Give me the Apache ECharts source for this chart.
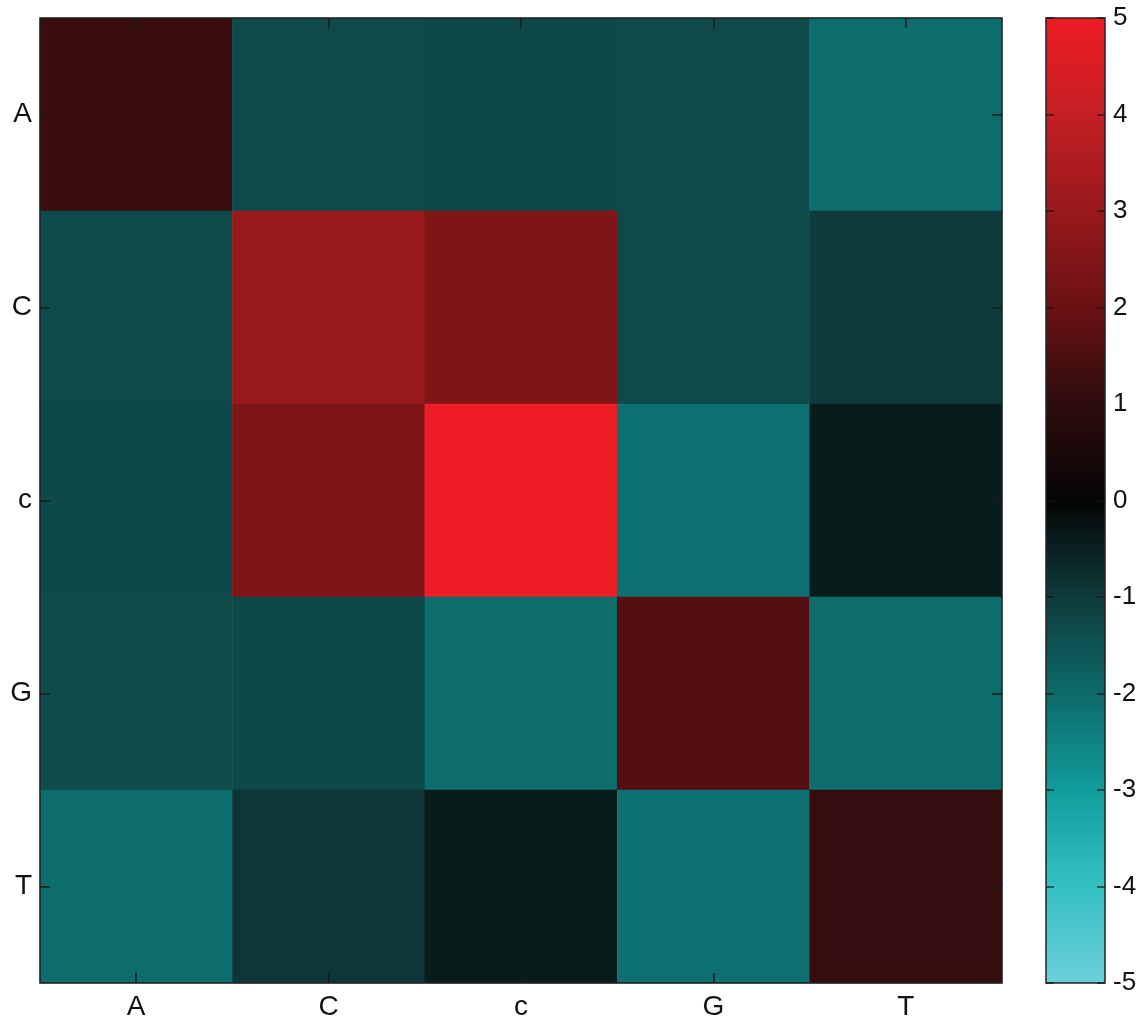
<!DOCTYPE html>
<html>
<head>
<meta charset="utf-8">
<script src="https://cdn.jsdelivr.net/npm/echarts@6/dist/echarts.min.js"></script>
<style>
  html, body { margin: 0; padding: 0; background: #fff; }
  #chart { width: 1146px; height: 1025px; }
</style>
</head>
<body>
<div id="chart"></div>
<script>
// Nucleotide labels (rows top to bottom, columns left to right)
const bases = ['A', 'C', 'c', 'G', 'T'];

// Score matrix, one array per row
const rowA = [1.2, -1.32, -1.28, -1.32, -2.05];
const rowC = [-1.32, 3.0, 2.45, -1.32, -1.0];
const rowc = [-1.28, 2.45, 5.0, -2.1, -0.43];
const rowG = [-1.34, -1.3, -2.05, 1.65, -2.05];
const rowT = [-2.05, -0.9, -0.43, -2.1, 1.12];
const rows = [rowA, rowC, rowc, rowG, rowT];

// Colour bar scale
const scaleMin = -5;
const scaleMax = 5;
const scaleTicks = [-5, -4, -3, -2, -1, 0, 1, 2, 3, 4, 5];

// Diverging cyan - black - red colormap, one stop per integer from -5 to 5
const rampColors = [
  '#6ccfd9', '#35c0c4', '#119c9c', '#0d6a6a', '#0f3b3b', '#050505',
  '#2e0c0d', '#6a1113', '#98191c', '#c41f24', '#ee1c24'
];

const cells = [];
rows.forEach((row, yi) => {
  row.forEach((v, xi) => cells.push([xi, yi, v]));
});

const FONT = "'Liberation Sans', Arial, Helvetica, sans-serif";

function ticks(len, color) {
  return { show: true, inside: true, alignWithLabel: true, length: len,
           lineStyle: { color: color, width: 1.5 } };
}

const PLOT = { left: 40, top: 18, width: 962, height: 965 };
const BAR = { left: 1046, top: 18, width: 59, height: 965 };
const barGrid = { left: BAR.left, top: BAR.top, width: BAR.width, height: BAR.height,
                  show: true, borderColor: '#222', borderWidth: 1.5,
                  backgroundColor: 'transparent', z: 10 };

const chart = echarts.init(document.getElementById('chart'), null, { renderer: 'canvas' });

chart.setOption({
  backgroundColor: '#ffffff',
  animation: false,
  grid: [
    { left: PLOT.left, top: PLOT.top, width: PLOT.width, height: PLOT.height,
      show: true, borderColor: '#222', borderWidth: 1.5, z: 10 },
    barGrid,
    Object.assign({}, barGrid, { show: false })
  ],
  xAxis: [
    { type: 'category', gridIndex: 0, data: bases, position: 'bottom', z: 10,
      axisLine: { show: false }, axisTick: ticks(10, '#1a1a1a'),
      axisLabel: { fontFamily: FONT, fontSize: 28, color: '#111', margin: 10 },
      splitLine: { show: false } },
    { type: 'category', gridIndex: 0, data: bases, position: 'top', z: 10,
      axisLine: { show: false }, axisTick: ticks(10, '#1a1a1a'),
      axisLabel: { show: false }, splitLine: { show: false } },
    { type: 'category', gridIndex: 1, data: [''], show: false },
    { type: 'category', gridIndex: 2, data: [''], show: false }
  ],
  yAxis: [
    { type: 'category', gridIndex: 0, data: bases, inverse: true, position: 'left', z: 10,
      axisLine: { show: false }, axisTick: ticks(10, '#1a1a1a'),
      axisLabel: { fontFamily: FONT, fontSize: 28, color: '#111', margin: 8 },
      splitLine: { show: false } },
    { type: 'category', gridIndex: 0, data: bases, inverse: true, position: 'right', z: 10,
      axisLine: { show: false }, axisTick: ticks(10, '#1a1a1a'),
      axisLabel: { show: false }, splitLine: { show: false } },
    // colour bar: left edge ticks
    { type: 'value', gridIndex: 1, min: scaleMin, max: scaleMax, interval: 1, position: 'left', z: 10,
      axisLine: { show: false, onZero: false }, axisTick: ticks(8, 'rgba(20,20,20,0.8)'),
      axisLabel: { show: false }, splitLine: { show: false } },
    // colour bar: right edge ticks and labels
    { type: 'value', gridIndex: 2, min: scaleMin, max: scaleMax, interval: 1, position: 'right', z: 10,
      axisLine: { show: false, onZero: false }, axisTick: ticks(8, 'rgba(20,20,20,0.8)'),
      axisLabel: { fontFamily: FONT, fontSize: 26, color: '#111', margin: 8,
        formatter: v => scaleTicks.includes(v) ? String(v) : '' },
      splitLine: { show: false } }
  ],
  visualMap: {
    type: 'continuous',
    min: scaleMin,
    max: scaleMax,
    seriesIndex: 0,
    calculable: false,
    realtime: false,
    text: null,
    showLabel: false,
    left: BAR.left,
    top: BAR.top,
    padding: 0,
    z: 1,
    itemWidth: BAR.width,
    itemHeight: BAR.height,
    inRange: { color: rampColors },
    textStyle: { color: 'transparent' }
  },
  series: [
    {
      type: 'heatmap',
      xAxisIndex: 0,
      yAxisIndex: 0,
      z: 1,
      data: cells,
      itemStyle: { borderWidth: 0 },
      emphasis: { disabled: true }
    }
  ]
});
</script>
</body>
</html>
